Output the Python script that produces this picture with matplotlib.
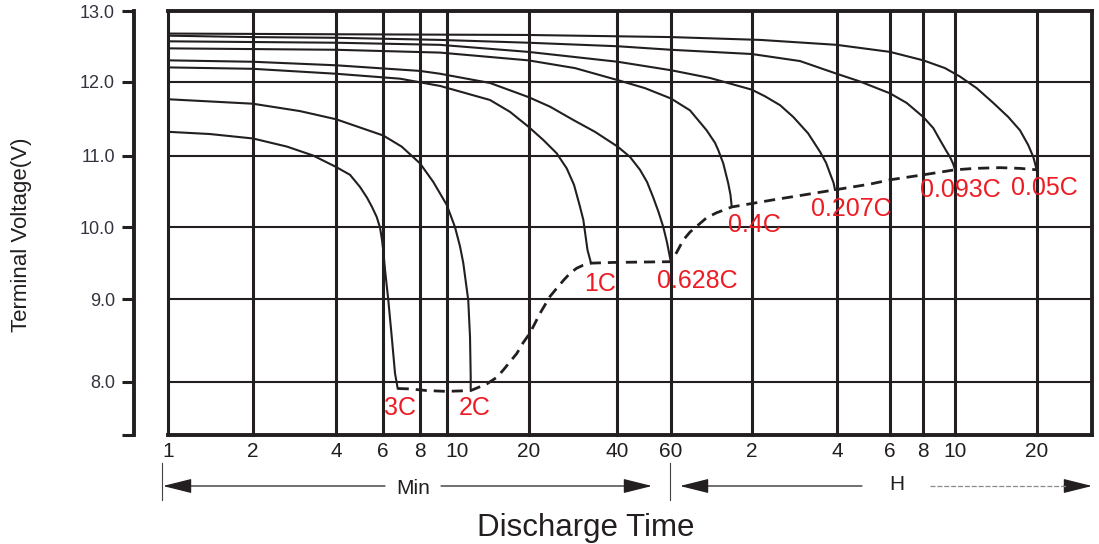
import numpy as np
import matplotlib
matplotlib.use("Agg")
import matplotlib.pyplot as plt
import matplotlib.transforms as mtransforms
from matplotlib.ticker import NullLocator, FixedLocator, FixedFormatter

# ---------------- data (time in minutes, voltage in V) ----------------
t_3C = [1, 1.408, 2.005, 2.661, 3.304, 4.0, 4.51, 4.914, 5.219, 5.447, 5.671,
        5.834, 5.935, 6.009, 6.081, 6.24, 6.408, 6.577, 6.717]
v_3C = [11.32, 11.29, 11.23, 11.12, 11.0, 10.84, 10.73, 10.56, 10.41, 10.28, 10.14,
        9.99, 9.82, 9.64, 9.41, 8.99, 8.55, 8.10, 7.915]

t_2C = [1, 2, 2.965, 4.0, 6.0, 6.93, 8.0, 8.94, 10.0, 10.72, 11.19, 11.5, 11.99,
        12.17, 12.24, 12.24]
v_2C = [11.76, 11.70, 11.60, 11.49, 11.27, 11.12, 10.89, 10.63, 10.31, 10.0, 9.73,
        9.50, 8.99, 8.54, 8.06, 7.915]

t_1C = [1, 2, 4, 6.84, 9.46, 14.40, 17.04, 19.89, 22.38, 24.87, 26.92, 28.51,
        29.77, 30.68, 31.71, 32.60]
v_1C = [12.20, 12.18, 12.11, 12.04, 11.94, 11.75, 11.59, 11.39, 11.21, 11.03, 10.82,
        10.59, 10.31, 10.10, 9.68, 9.50]

t_0628C = [1, 2, 4, 8, 9.46, 14.40, 19.89, 23.60, 28.35, 33.63, 40.2, 44.11,
           47.54, 50.12, 52.54, 54.63, 56.62, 58.21, 59.90]
v_0628C = [12.30, 12.28, 12.23, 12.15, 12.11, 11.98, 11.79, 11.66, 11.48, 11.32,
           11.12, 10.98, 10.80, 10.63, 10.41, 10.21, 10.0, 9.79, 9.52]

t_04C = [1, 2, 4, 9.46, 19.89, 28.73, 40.2, 49.37, 60.0, 70.63, 81.5, 87.6, 90.1,
         94.0, 98.1, 100.0, 101.1]
v_04C = [12.47, 12.46, 12.45, 12.41, 12.30, 12.19, 12.02, 11.91, 11.77, 11.61,
         11.34, 11.17, 11.07, 10.89, 10.61, 10.45, 10.28]

t_0207C = [1, 2, 4, 9.46, 19.89, 40.2, 60, 83.9, 120, 133.7, 151.1, 168.3, 189.7,
           209.1, 219.5, 227.7, 233.3, 236.1]
v_0207C = [12.57, 12.56, 12.55, 12.52, 12.42, 12.28, 12.16, 12.05, 11.89, 11.80,
           11.68, 11.52, 11.30, 11.05, 10.90, 10.73, 10.62, 10.52]

t_0093C = [1, 2, 4, 9.46, 19.89, 40.2, 60, 120, 177.7, 239.4, 286.2, 360, 417.0,
           482.0, 516.5, 540.8, 563.7, 579.5, 592.9, 600]
v_0093C = [12.65, 12.63, 12.62, 12.59, 12.55, 12.50, 12.45, 12.39, 12.29, 12.11,
           12.00, 11.84, 11.71, 11.52, 11.37, 11.21, 11.07, 10.98, 10.88, 10.80]

t_005C = [1, 4, 19.89, 60, 128.4, 239.4, 360, 482, 559.9, 626.0, 721.3, 830.6,
          943.0, 1041.6, 1117.3, 1165.8, 1200]
v_005C = [12.68, 12.67, 12.66, 12.63, 12.59, 12.52, 12.42, 12.30, 12.19, 12.07,
          11.91, 11.71, 11.52, 11.34, 11.14, 10.98, 10.80]

# end-voltage locus (dashed)
t_end = [6.717, 7.396, 8.46, 10, 12.24, 14.01, 15.24, 16.11, 17.04, 18.04, 19.02,
         20.16, 21.82, 23.60, 24.74, 26.21, 27.63, 29.12, 30.60, 32.60, 38.85, 59.90,
         63.01, 66.69, 70.63, 74.82, 81.52, 88.84, 101.1, 143.0, 177.7, 236.1, 309.0,
         360, 482, 600, 711.1, 879.0, 1041.6, 1200]
v_end = [7.915, 7.91, 7.89, 7.88, 7.89, 7.97, 8.05, 8.14, 8.24, 8.34, 8.47,
         8.59, 8.83, 9.04, 9.14, 9.26, 9.36, 9.43, 9.47, 9.50, 9.51, 9.52,
         9.65, 9.82, 9.93, 10.01, 10.13, 10.20, 10.28, 10.38, 10.44, 10.52, 10.60,
         10.66, 10.73, 10.80, 10.82, 10.83, 10.82, 10.80]

rate_labels = ["3C", "2C", "1C", "0.628C", "0.4C", "0.207C", "0.093C", "0.05C"]
label_t = [6.84, 12.69, 34.99, 75.0, 122.3, 267.2, 626, 1276.6]
label_v = [7.68, 7.68, 9.21, 9.25, 10.03, 10.25, 10.52, 10.55]

x_ticks = [1, 2, 4, 6, 8, 10, 20, 40, 60, 120, 240, 360, 480, 600, 1200]
x_ticklabels = ["1", "2", "4", "6", "8", "10", "20", "40", "60",
                "2", "4", "6", "8", "10", "20"]
y_ticks = [8, 9, 10, 11, 12, 13]
y_ticklabels = ["8.0", "9.0", "10.0", "11.0", "12.0", "13.0"]

curves = [(t_3C, v_3C), (t_2C, v_2C), (t_1C, v_1C), (t_0628C, v_0628C),
          (t_04C, v_04C), (t_0207C, v_0207C), (t_0093C, v_0093C), (t_005C, v_005C)]

# ---------------- styling ----------------
K = "#231f20"
RED = "#ed1c24"
plt.rcParams["font.family"] = ["Liberation Sans", "DejaVu Sans"]

W, H = 1099, 544
X0, X1, Y0, Y1 = 168.3, 1092, 11, 435
fig = plt.figure(figsize=(W / 100, H / 100), dpi=100)
ax = fig.add_axes([X0 / W, 1 - Y1 / H, (X1 - X0) / W, (Y1 - Y0) / H])

# the printed axes are hand-drawn: grid spacing is only roughly logarithmic /
# linear, so use piecewise scales anchored at the printed grid lines
XT_ANCH = np.log10([1, 2, 4, 6, 8, 10, 20, 40, 60, 120, 240, 360, 480, 600, 1200, 1919])
XP_ANCH = np.array([168.3, 252.7, 336, 383.3, 420, 446.7, 529, 617, 671, 751.7,
                    837, 890, 922.7, 955, 1036.7, 1092]) - X0
V_ANCH = np.array([7.35, 8, 9, 10, 11, 12, 13])
VP_ANCH = np.array([0, 53.5, 135.7, 208, 279.5, 353.5, 424])


def xfwd(t):
    t = np.clip(np.asarray(t, dtype=float), 1e-3, None)
    return np.interp(np.log10(t), XT_ANCH, XP_ANCH)


def xinv(p):
    return 10 ** np.interp(p, XP_ANCH, XT_ANCH)


def yfwd(v):
    return np.interp(v, V_ANCH, VP_ANCH)


def yinv(p):
    return np.interp(p, VP_ANCH, V_ANCH)


ax.set_xscale("function", functions=(xfwd, xinv))
ax.set_yscale("function", functions=(yfwd, yinv))
ax.set_xlim(1, 1919)
ax.set_ylim(7.35, 13)

for t, v in curves:
    ax.plot(t, v, color=K, lw=1.5, solid_joinstyle="round", zorder=3)
ax.plot(t_end, v_end, color=K, lw=2.0, dashes=(4, 2.5), zorder=3)

for s, t, v in zip(rate_labels, label_t, label_v):
    ax.text(t, v, s, color=RED, fontsize=18, ha="center", va="center", zorder=4)

# ticks / grid
ax.xaxis.set_major_locator(FixedLocator(x_ticks))
ax.xaxis.set_major_formatter(FixedFormatter(x_ticklabels))
ax.xaxis.set_minor_locator(NullLocator())
ax.yaxis.set_major_locator(FixedLocator([7.35] + y_ticks))
ax.yaxis.set_major_formatter(FixedFormatter([""] + y_ticklabels))
ax.yaxis.set_minor_locator(NullLocator())

ax.tick_params(axis="x", length=0, pad=5, labelsize=15, labelcolor=K)
ax.tick_params(axis="y", direction="out", length=9, width=2.2, color=K,
               pad=5, labelsize=13, labelcolor="#33333f")
for lab in ax.get_yticklabels():
    lab.set_family("DejaVu Sans")

# the printed "10" (minutes) label sits a little right of its grid line
fig.canvas.draw()
xlabs = ax.get_xticklabels()
shift = mtransforms.ScaledTranslation(10 / 100, 0, fig.dpi_scale_trans)
xlabs[5].set_transform(xlabs[5].get_transform() + shift)

ax.grid(axis="x", color=K, lw=2.2)
ax.grid(axis="y", color=K, lw=1.5)
for gl in ax.get_xgridlines():
    gl.set_clip_on(False)
ax.set_axisbelow(True)

for side in ["top", "right", "bottom"]:
    ax.spines[side].set_linewidth(2.8)
    ax.spines[side].set_color(K)
ax.spines["left"].set_position(("outward", 24.5))
ax.spines["left"].set_linewidth(2.8)
ax.spines["left"].set_color(K)


# ---------------- Min / H annotations under the axis ----------------
def fp(x, y):
    return (x, H - y)


sep_kw = dict(color="#444444", lw=0.8)
fig.add_artist(plt.Line2D([162 / W, 162 / W], [1 - 463 / H, 1 - 500 / H], **sep_kw))
fig.add_artist(plt.Line2D([670 / W, 670 / W], [1 - 463 / H, 1 - 500 / H], **sep_kw))

arrow = dict(arrowstyle="-|>,head_length=1.2,head_width=0.3", color=K, lw=0.9,
             mutation_scale=15, shrinkA=0, shrinkB=0)


def arr(tip, start):
    ax.annotate("", xy=fp(*tip), xytext=fp(*start), xycoords="figure pixels",
                textcoords="figure pixels", arrowprops=arrow, annotation_clip=False)


arr((163, 486), (385, 486))
arr((652, 486), (441, 486))
fig.text(413 / W, 1 - 488 / H, "Min", ha="center", va="center", fontsize=15, color=K)

arr((680, 486), (862, 486))
fig.add_artist(plt.Line2D([930 / W, 1066 / W], [1 - 486 / H, 1 - 486 / H],
                          color="#8a8a8a", lw=0.9, dashes=(4, 1.5)))
arr((1092, 486), (1064, 486))
fig.text(897 / W, 1 - 484 / H, "H", ha="center", va="center", fontsize=15, color=K)

fig.text(586 / W, 1 - 528 / H, "Discharge Time", ha="center", va="center",
         fontsize=22.5, color=K)
fig.text(22 / W, 1 - 235 / H, "Terminal Voltage(V)", ha="center", va="center",
         rotation=90, fontsize=16, color=K)

fig.savefig("out.png", dpi=100)
